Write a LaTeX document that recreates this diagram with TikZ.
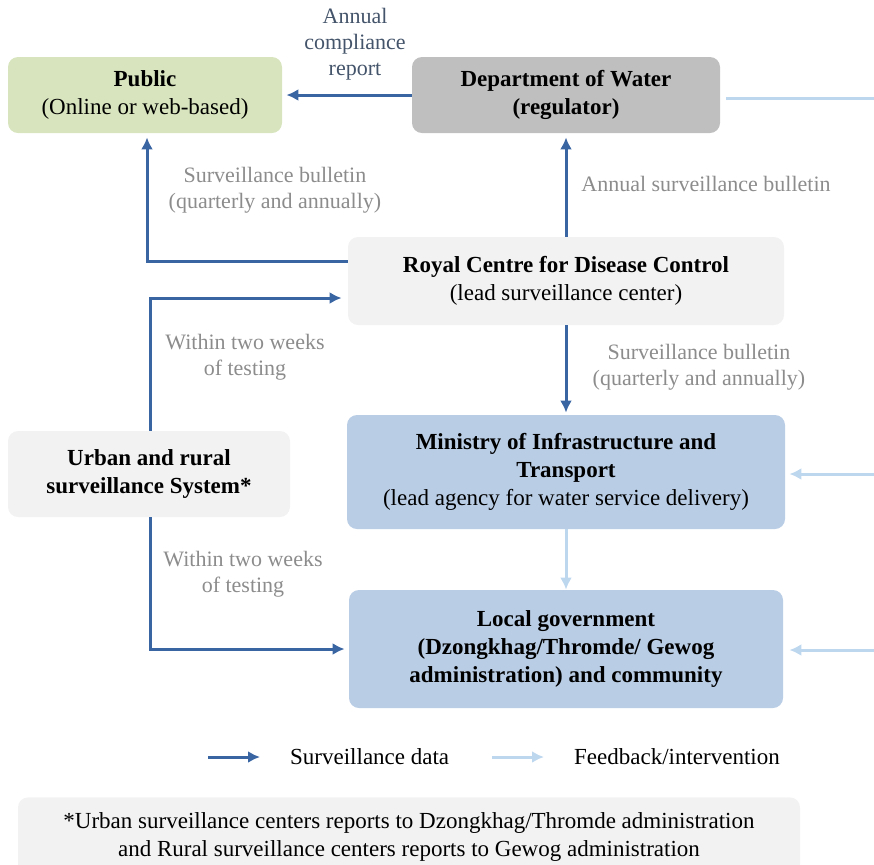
\documentclass[tikz,border=0pt]{standalone}
\usepackage{fontspec}
\setmainfont{Liberation Serif}
\usepackage{tikz}
\usetikzlibrary{arrows.meta,positioning,calc}
\definecolor{ink}{HTML}{000000}
\definecolor{dflow}{HTML}{3A65A3}
\definecolor{lflow}{HTML}{BDD7EE}
\definecolor{lbl}{HTML}{8C8C8C}
\definecolor{navy}{HTML}{44546A}
\definecolor{pubg}{HTML}{D7E4BD}
\definecolor{regg}{HTML}{BFBFBF}
\definecolor{pale}{HTML}{F2F2F2}
\definecolor{agency}{HTML}{B9CDE5}
\tikzset{
  box/.style={rounded corners=5pt, draw=none, fill=pale, inner sep=4pt, font=\fontsize{11.5}{14}\selectfont, align=center, text=ink},
  note/.style={font=\fontsize{11}{13}\selectfont, align=center, text=lbl},
  flow/.style={-{Latex[length=6pt,width=6pt]}, line width=1.5pt, draw=dflow},
  flowl/.style={-{Latex[length=6pt,width=6pt]}, line width=1.5pt, draw=lflow},
}
\begin{document}
\begin{tikzpicture}[x=0.5pt,y=0.5pt]
  \useasboundingbox (0,0) rectangle (874,-864);
  % top row
  \node[box,fill=pubg,minimum width=137pt,minimum height=38pt](pub) at (145,-95){\textbf{Public}\\(Online or web-based)};
  \node[box,fill=regg,minimum width=154pt,minimum height=38pt](dow) at (566,-95){\textbf{Department of Water}\\\textbf{(regulator)}};
  % lead centre
  \node[box,minimum width=218pt,minimum height=44pt](rcdc) at (566,-281){\textbf{Royal Centre for Disease Control}\\(lead surveillance center)};
  % field level
  \node[box,minimum width=141pt,minimum height=43pt](urs) at (149,-474){\textbf{Urban and rural}\\\textbf{surveillance System*}};
  \node[box,fill=agency,minimum width=219pt,minimum height=57pt](mit) at (566,-472){\textbf{Ministry of Infrastructure and}\\\textbf{Transport}\\(lead agency for water service delivery)};
  \node[box,fill=agency,minimum width=217pt,minimum height=59pt](loc) at (566,-649){\textbf{Local government}\\\textbf{(Dzongkhag/Thromde/ Gewog}\\\textbf{administration) and community}};
  % right edge
  \coordinate (r1) at (874,-98);
  \coordinate (r2) at (874,-474);
  \coordinate (r3) at (874,-650);
  % arrows
  \draw[flow,shorten >=2pt](dow.west)--(pub.east);
  \node[note,text=navy] at (355,-44){Annual\\compliance\\report};
  \draw[flow,shorten >=2pt](rcdc.north)--(dow.south);
  \node[note] at (706,-184){Annual surveillance bulletin};
  \draw[flow,shorten >=2pt]([yshift=10pt]rcdc.west)-|([xshift=1pt]pub.south);
  \node[note] at (275,-190){Surveillance bulletin\\(quarterly and annually)};
  \draw[flow,shorten >=3pt]([xshift=0.5pt]urs.north)|-([yshift=-8.5pt]rcdc.west);
  \node[note] at (245,-357){Within two weeks\\of testing};
  \draw[flow,shorten >=2pt]([xshift=0.5pt]urs.south)|-(loc.west);
  \node[note] at (243,-574){Within two weeks\\of testing};
  \draw[flow,shorten >=1pt](rcdc.south)--(mit.north);
  \node[note] at (699,-367){Surveillance bulletin\\(quarterly and annually)};
  \draw[flowl](mit.south)--(loc.north);
  \draw[flowl,-]([xshift=3pt]dow.east |- r1)--(r1);
  \draw[flowl,shorten >=2pt](r2)--(mit.east |- r2);
  \draw[flowl,shorten >=3pt](r3)--(loc.east |- r3);
  % legend
  \coordinate (k1) at (208,-757);
  \coordinate (k2) at (492,-757);
  \draw[flow](k1)--++(26pt,0) node[right=11pt,font=\fontsize{11.5}{14}\selectfont](kd){Surveillance data};
  \draw[flowl](k2)--++(26pt,0) node[right=11pt,font=\fontsize{11.5}{14}\selectfont](kl){Feedback/intervention};
  % footnote
  \node[box,minimum width=391pt,minimum height=40pt,anchor=north](foot) at (409,-797){*Urban surveillance centers reports to Dzongkhag/Thromde administration\\and Rural surveillance centers reports to Gewog administration};
\end{tikzpicture}
\end{document}
